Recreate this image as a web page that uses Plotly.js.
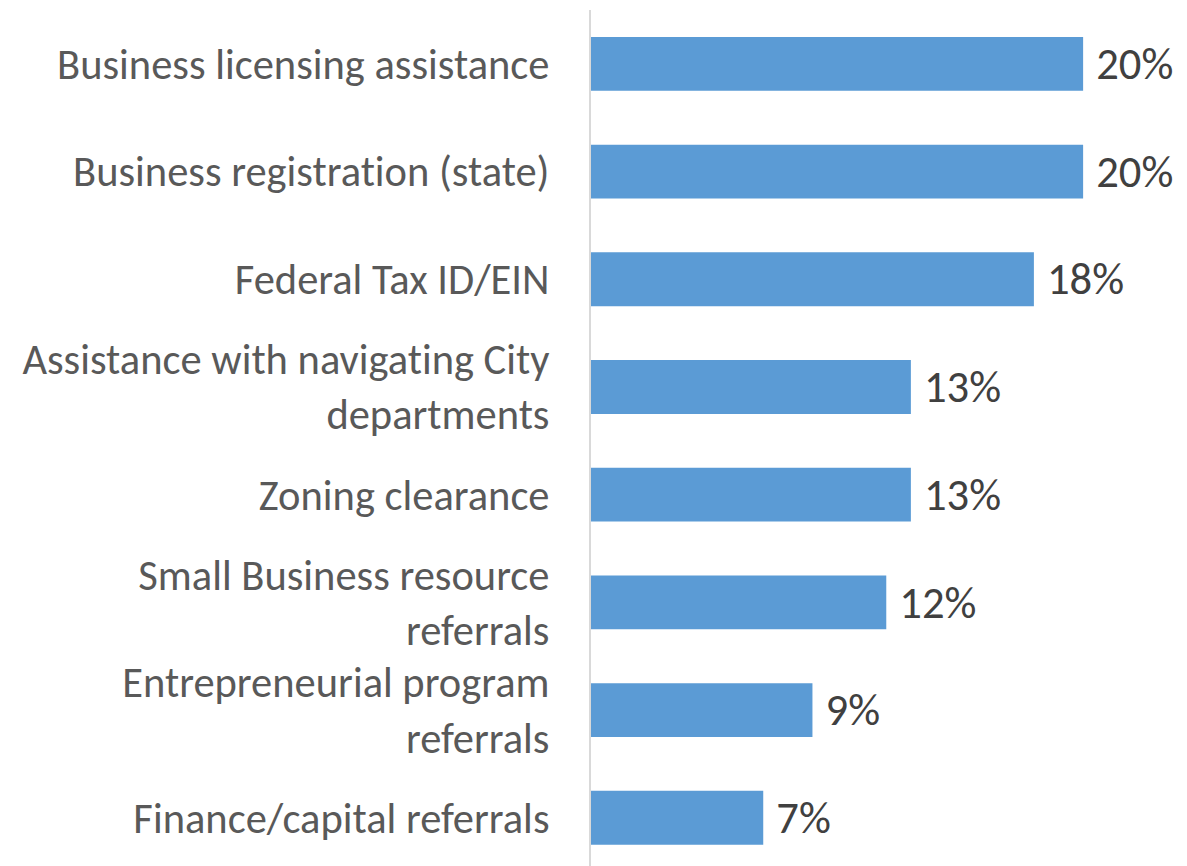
<!DOCTYPE html>
<html>
<head>
<meta charset="utf-8">
<script src="https://cdn.plot.ly/plotly-3.0.1.min.js"></script>
<style>html,body{margin:0;padding:0;background:#fff;}#chart{width:1187px;height:866px;}
svg text{font-variant-ligatures:none !important;font-feature-settings:"liga" 0, "clig" 0 !important;}</style>
</head>
<body>
<div id="chart"></div>
<script>
var categories = [
  "Business licensing assistance",
  "Business registration (state)",
  "Federal Tax ID/EIN",
  "Assistance with navigating City<br>departments",
  "Zoning clearance",
  "Small Business resource<br>referrals",
  "Entrepreneurial program<br>referrals",
  "Finance/capital referrals"
];
var values = [20, 20, 18, 13, 13, 12, 9, 7];
var valueLabels = ["20%", "20%", "18%", "13%", "13%", "12%", "9%", "7%"];

var fontFam = "Carlito, Calibri, Lato, 'Open Sans', sans-serif";

var trace = {
  type: "bar",
  orientation: "h",
  x: values,
  y: categories,
  text: valueLabels,
  texttemplate: "\u00a0%{text}",
  textposition: "outside",
  cliponaxis: false,
  textfont: {family: fontFam, size: 53, color: "#404040"},
  marker: {color: "#5B9BD5", line: {width: 0}},
  width: 0.5,
  hoverinfo: "none"
};

var layout = {
  width: 1187,
  height: 866,
  margin: {l: 591, r: 3, t: 10, b: 0, pad: 0},
  paper_bgcolor: "#ffffff",
  plot_bgcolor: "#ffffff",
  showlegend: false,
  xaxis: {
    range: [0, 24.1],
    showgrid: false,
    zeroline: false,
    showline: false,
    showticklabels: false,
    ticks: "",
    fixedrange: true
  },
  yaxis: {
    type: "category",
    categoryorder: "array",
    categoryarray: categories,
    range: [7.448, -0.5],
    showgrid: false,
    zeroline: false,
    showline: true,
    linecolor: "#d9d9d9",
    linewidth: 2,
    ticks: "",
    ticklabelstandoff: 31,
    tickfont: {family: fontFam, size: 42.5, color: "#595959"},
    fixedrange: true
  }
};

Plotly.newPlot("chart", [trace], layout, {displayModeBar: false, staticPlot: true});
</script>
</body>
</html>
